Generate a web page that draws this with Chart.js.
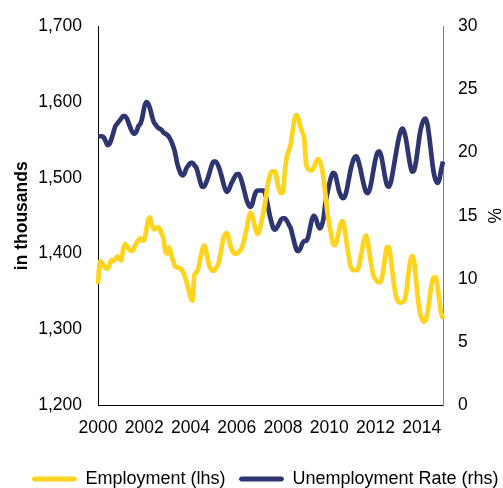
<!DOCTYPE html>
<html><head><meta charset="utf-8">
<script src="https://cdn.jsdelivr.net/npm/chart.js@4"></script>
<style>html,body{margin:0;padding:0;background:#fff}#wrap{width:503px;height:488px;position:relative}</style>
</head><body><div id="wrap"><canvas id="c"></canvas></div>
<script>
const years = [2000,2001,2002,2003,2004,2005,2006,2007,2008,2009,2010,2011,2012,2013,2014];
const monthNames = ['Jan','Feb','Mar','Apr','May','Jun','Jul','Aug','Sep','Oct','Nov','Dec'];
const xTickLabels = ['2000','2002','2004','2006','2008','2010','2012','2014'];
const leftTicks = [1200,1300,1400,1500,1600,1700];
const rightTicks = [0,5,10,15,20,25,30];

const employment = [
 1360,1390,1388,1384,1381,1380,1386,1391,1390,1393,1396,1394,
 1391,1405,1413,1410,1406,1404,1404,1409,1414,1418,1420,1417,
 1418,1430,1444,1448,1438,1432,1433,1435,1433,1426,1420,1402,
 1400,1408,1398,1390,1383,1382,1381,1380,1376,1370,1362,1352,
 1342,1338,1372,1375,1380,1392,1404,1411,1405,1392,1382,1378,
 1377,1380,1384,1392,1406,1420,1426,1427,1418,1408,1402,1400,
 1400,1402,1405,1410,1420,1432,1445,1454,1450,1440,1430,1426,
 1432,1445,1456,1472,1490,1502,1508,1509,1508,1495,1484,1480,
 1481,1510,1528,1536,1545,1562,1578,1583,1578,1568,1560,1552,
 1518,1512,1510,1510,1514,1520,1525,1523,1515,1500,1478,1455,
 1438,1425,1413,1411,1418,1430,1440,1443,1432,1414,1398,1383,
 1379,1378,1378,1380,1392,1405,1418,1424,1415,1398,1382,1370,
 1366,1363,1362,1365,1378,1396,1409,1408,1392,1370,1352,1340,
 1336,1335,1336,1338,1350,1372,1390,1397,1390,1365,1340,1322,
 1314,1310,1312,1322,1340,1358,1368,1369,1360,1340,1322,1314
];
const unemploymentRate = [
 21.3,21.3,21.3,21.2,20.9,20.6,20.7,21.1,21.6,22.1,22.3,22.5,
 22.7,22.9,22.9,22.7,22.3,21.9,21.6,21.5,21.7,22.1,22.3,22.8,
 23.6,24.0,23.9,23.5,22.9,22.4,22.2,22.0,21.9,21.8,21.6,21.5,
 21.4,21.2,20.9,20.5,20.0,19.2,18.7,18.3,18.2,18.4,18.8,19.0,
 19.2,19.2,19.0,18.8,18.3,17.7,17.3,17.3,17.6,18.0,18.5,19.0,
 19.3,19.3,19.1,18.7,18.2,17.6,17.1,16.9,17.1,17.5,17.8,18.1,
 18.3,18.3,18.0,17.5,16.9,16.3,15.9,15.7,15.9,16.5,16.9,17.0,
 17.0,17.0,17.0,16.6,15.9,15.1,14.5,14.0,13.9,14.1,14.4,14.7,
 14.8,14.8,14.6,14.3,14.0,13.4,12.8,12.3,12.2,12.4,12.8,13.0,
 13.0,13.3,14.0,14.7,15.0,14.8,14.3,14.0,14.2,14.8,16.0,16.8,
 17.5,18.1,18.4,18.3,17.7,17.0,16.6,16.4,16.5,17.0,17.8,18.6,
 19.2,19.6,19.7,19.4,18.8,18.1,17.4,16.9,16.8,17.1,17.8,18.7,
 19.5,20.0,20.1,19.7,18.9,18.0,17.4,17.3,17.7,18.5,19.4,20.3,
 21.1,21.7,21.9,21.6,20.9,19.9,19.0,18.5,18.6,19.3,20.4,21.5,
 22.2,22.6,22.7,22.2,21.1,19.8,18.6,17.9,17.6,17.8,18.6,19.3
];

const categories = [];
years.forEach(y => monthNames.forEach(m => categories.push(m + ' ' + y)));

const YELLOW = '#FFD41F';
const NAVY = '#2D3670';
const FONT = "'Liberation Sans', Arial, sans-serif";

const legendShift = {
  id: 'legendShift',
  afterLayout(chart) {
    if (chart.legend) { chart.legend.left += 14; chart.legend.right += 14; }
  }
};

new Chart(document.getElementById('c'), {
  type: 'line',
  data: {
    labels: categories,
    datasets: [
      { label: 'Employment (lhs)', data: employment, yAxisID: 'y',
        borderColor: YELLOW, backgroundColor: YELLOW, borderWidth: 4.7,
        pointRadius: 0, cubicInterpolationMode: 'monotone', fill: false },
      { label: 'Unemployment Rate (rhs)', data: unemploymentRate, yAxisID: 'y1',
        borderColor: NAVY, backgroundColor: NAVY, borderWidth: 4.7,
        pointRadius: 0, cubicInterpolationMode: 'monotone', fill: false }
    ]
  },
  plugins: [legendShift],
  options: {
    responsive: true, maintainAspectRatio: false, animation: false, devicePixelRatio: 1,
    layout: { padding: { left: 0, right: 0, top: 23, bottom: -10 } },
    plugins: {
      tooltip: { enabled: false },
      legend: {
        position: 'bottom',
        labels: {
          font: { family: FONT, size: 18 }, color: '#000',
          boxWidth: 44, boxHeight: 4, padding: 14,
          useBorderRadius: true, borderRadius: 2,
          generateLabels: (chart) => Chart.defaults.plugins.legend.labels.generateLabels(chart)
            .map(l => Object.assign(l, { lineWidth: 1 }))
        }
      }
    },
    scales: {
      x: {
        type: 'category', offset: false,
        grid: { display: false, drawTicks: false },
        border: { display: true, color: '#000', width: 1 },
        ticks: {
          autoSkip: false, maxRotation: 0, minRotation: 0, padding: 13,
          color: '#000', font: { family: FONT, size: 17.5 },
          callback: (v, i) => (i % 24 === 0 ? xTickLabels[i / 24] : '')
        },
        afterFit: (s) => { s.height = 51; }
      },
      y: {
        position: 'left', min: 1200, max: 1700,
        grid: { display: false, drawTicks: false },
        border: { display: true, color: '#000', width: 1 },
        ticks: {
          stepSize: 100, padding: 16, color: '#000', font: { family: FONT, size: 17.5 },
          callback: (v) => leftTicks.includes(v) ? v.toLocaleString('en-US') : ''
        },
        title: { display: true, text: 'in thousands', color: '#000',
          font: { family: FONT, size: 17.5, weight: 'bold' }, padding: { top: 12, bottom: 0 } },
        afterFit: (s) => { s.width = 98; }
      },
      y1: {
        position: 'right', min: 0, max: 30,
        grid: { display: false, drawTicks: false },
        border: { display: true, color: '#808080', width: 1 },
        ticks: {
          stepSize: 5, padding: 15, color: '#000', font: { family: FONT, size: 17.5 },
          callback: (v) => rightTicks.includes(v) ? String(v) : ''
        },
        title: { display: true, text: '%', color: '#000',
          font: { family: FONT, size: 17.5 }, padding: { top: 0, bottom: 6 } },
        afterFit: (s) => { s.width = 60; }
      }
    }
  }
});
</script>
</body></html>
